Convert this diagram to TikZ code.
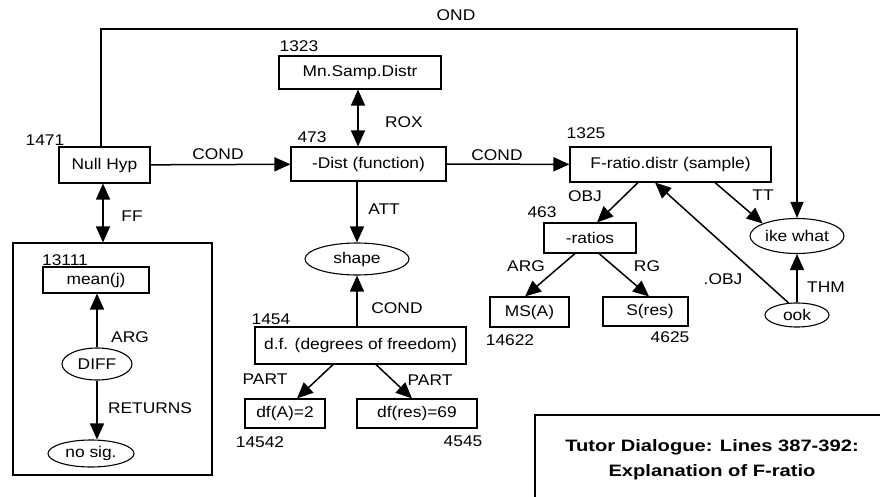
\documentclass[tikz,border=0pt]{standalone}
\usepackage{fontspec}
\setmainfont[FakeStretch=1.12]{Liberation Sans}
\newfontfamily\titlefont[FakeStretch=1.22]{Liberation Sans}
\usetikzlibrary{arrows.meta,shapes.geometric,calc}
\begin{document}
\begin{tikzpicture}[x=1pt,y=-1pt,
  every node/.style={font=\fontsize{15.5}{17}\selectfont},
  box/.style={draw, line width=1.1pt, inner sep=0pt},
  oval/.style={draw, ellipse, line width=1.1pt, inner sep=0pt},
  lbl/.style={inner sep=0pt},
  tip/.style={},
  arr/.style={line width=1.5pt, -{Triangle[length=16pt,width=14pt]}},
  dbl/.style={line width=1.5pt, {Triangle[length=16pt,width=14pt]}-{Triangle[length=16pt,width=14pt]}},
  thinarr/.style={line width=1.1pt, -{Triangle[length=16pt,width=13pt]}}]
\useasboundingbox (0,0) rectangle (880,497);

% boxes
\node[box, minimum width=91pt, minimum height=36pt] (nullhyp) at (104.5,165) {Null Hyp};
\node[box, minimum width=155pt, minimum height=34pt] (dist) at (368.5,164) {-Dist (function)};
\node[box, minimum width=162pt, minimum height=33pt] (mn) at (360,72.5) {Mn.Samp.Distr};
\node[box, minimum width=201pt, minimum height=35pt] (fratio) at (670.5,164.5) {F-ratio.distr (sample)};
\node[box, minimum width=92pt, minimum height=30pt] (ratios) at (590,238) {-ratios};
\node[box, minimum width=79pt, minimum height=30pt] (msa) at (529.5,312) {MS(A)};
\node[box, minimum width=85pt, minimum height=29pt] (sres) at (645.5,311.5) {\hspace*{9pt}S(res)};
\node[oval, minimum width=94pt, minimum height=35pt] (ikewhat) at (797,236) {ike what};
\node[oval, minimum width=64pt, minimum height=24pt] (ook) at (797,315) {ook};
\node[oval, minimum width=104pt, minimum height=32pt] (shape) at (357,259) {shape};
\node[box, minimum width=211pt, minimum height=37pt] (df) at (360.5,345.5) {d.f. (degrees of freedom)};
\node[box, minimum width=80pt, minimum height=29pt] (dfa) at (285,413.5) {df(A)=2};
\node[box, minimum width=120pt, minimum height=29pt] (dfres) at (417,413.5) {df(res)=69};
\node[box, minimum width=199pt, minimum height=232pt] (bigbox) at (112.5,359) {};
\node[box, minimum width=106pt, minimum height=26pt] (mean) at (96,280) {mean(j)};
\node[oval, minimum width=70pt, minimum height=32pt] (diff) at (97,364) {DIFF};
\node[oval, minimum width=86pt, minimum height=27pt] (nosig) at (91,453.5) {no sig.};

% id numbers
\node[lbl] (n1471) at (45,140) {1471};
\node[lbl] (n1323) at (299,46) {1323};
\node[lbl] (n473) at (312,137) {473};
\node[lbl] (n1325) at (586,133) {1325};
\node[lbl] (n463) at (542,212) {463};
\node[lbl] (n13111) at (65,260) {13111};
\node[lbl] (n1454) at (271,319) {1454};
\node[lbl] (n14622) at (510,340) {14622};
\node[lbl] (n4625) at (670,337) {4625};
\node[lbl] (n14542) at (260,442) {14542};
\node[lbl] (n4545) at (463,441) {4545};

% edge labels
\node[lbl] (lcond1) at (218,154) {COND};
\node[lbl] (lcond2) at (497,155) {COND};
\node[lbl] (lrox) at (404,122) {ROX};
\node[lbl] (latt) at (384,209) {ATT};
\node[lbl] (lff) at (132,216) {FF};
\node[lbl] (lond) at (456,15) {OND};
\node[lbl] (lobj) at (585,196) {OBJ};
\node[lbl] (ltt) at (763,195) {TT};
\node[lbl] (larg) at (526,266) {ARG};
\node[lbl] (lrg) at (647,266) {RG};
\node[lbl] (ldobj) at (723,279) {.OBJ};
\node[lbl] (lthm) at (826,287) {THM};
\node[lbl] (lcond3) at (397,308) {COND};
\node[lbl] (lpart1) at (265,379) {PART};
\node[lbl] (lpart2) at (430,380) {PART};
\node[lbl] (larg2) at (130,337) {ARG};
\node[lbl] (lret) at (150,408) {RETURNS};

% connectors
\coordinate (tl) at (101,29);
\coordinate (tr) at (797,29);
\draw[thinarr] (nullhyp.north -| tl) -- (tl) -- (tr) -- (ikewhat.north);
\draw[arr] (nullhyp) -- (dist);
\draw[arr] (dist) -- (fratio);
\draw[dbl] ([xshift=-2pt]mn.south) -- ([xshift=-2pt]mn.south |- dist.north);
\draw[arr] (shape.north |- dist.south) -- (shape.north);
\draw[arr] (shape.south |- df.north) -- (shape.south);
\draw[dbl] ([xshift=-1.5pt]nullhyp.south) -- ([xshift=-1.5pt]nullhyp.south |- bigbox.north);
\draw[arr] (diff.north) -- (diff.north |- mean.south);
\draw[arr] (diff.south) -- (diff.south |- nosig.north);
\draw[arr] ([xshift=-32.5pt]fratio.south) -- ([xshift=7pt]ratios.north);
\draw[arr] ([xshift=44.5pt]fratio.south) -- (ikewhat.160);
\draw[arr] (ook.125) -- ([xshift=-15.5pt]fratio.south);
\draw[arr] (ook.north) -- (ikewhat.south);
\draw[arr] ([xshift=-15pt]ratios.south) -- ([xshift=-4.5pt]msa.north);
\draw[arr] ([xshift=9pt]ratios.south) -- ([xshift=3.5pt]sres.north);
\draw[arr] ([xshift=-27.5pt]df.south) -- ([xshift=12pt]dfa.north);
\draw[arr] ([xshift=15.5pt]df.south) -- ([xshift=-5pt]dfres.north);

% title box (cut by the picture edge)
\coordinate (tbl) at (535,497);
\coordinate (ttl) at (535,415);
\coordinate (ttr) at (880,415);
\draw[line width=1.1pt] (tbl) -- (ttl) -- (ttr);
\node[lbl, align=center, font=\titlefont\bfseries\fontsize{16.5}{25}\selectfont] (title) at (712,459.5) {Tutor Dialogue: Lines 387-392:\\Explanation of F-ratio};
\end{tikzpicture}
\end{document}
